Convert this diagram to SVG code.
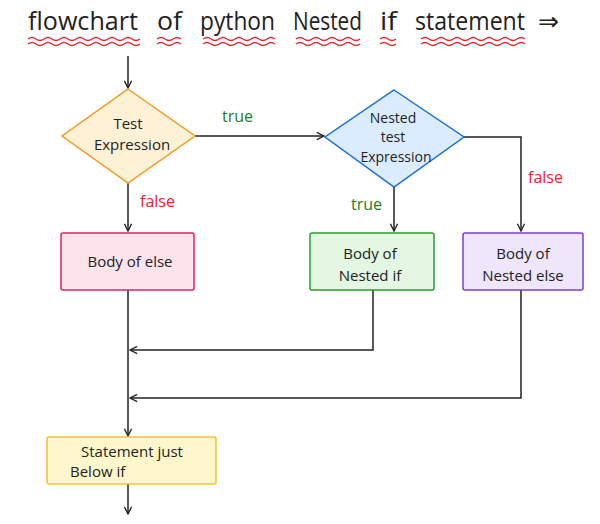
<svg xmlns="http://www.w3.org/2000/svg" width="600" height="524" viewBox="0 0 600 524">
<style>
text{font-family:"Open Sans","Liberation Sans",sans-serif;fill:#222}
.t{font-size:15px;text-anchor:middle}
.s{font-size:14px;text-anchor:middle}
.h{font-size:25px}
.c{stroke:#222;stroke-width:1.5;fill:none}
.wav{stroke:#e8232a;stroke-width:1.3;fill:none}
.g{fill:#1e7d1e;font-size:16px}
.r{fill:#e8232a;font-size:16px}
</style>
<defs>
<marker id="a" viewBox="0 0 10 10" refX="9" refY="5" markerWidth="9" markerHeight="9" orient="auto-start-reverse" markerUnits="userSpaceOnUse"><path d="M1,1 L9,5 L1,9" fill="none" stroke="#222" stroke-width="1.5"/></marker>
</defs>
<rect width="600" height="524" fill="#fff"/>
<g id="title">
<text class="h" x="28" y="30" textLength="110" lengthAdjust="spacingAndGlyphs">flowchart</text>
<text class="h" x="157" y="30" textLength="25" lengthAdjust="spacingAndGlyphs">of</text>
<text class="h" x="200" y="30" textLength="75" lengthAdjust="spacingAndGlyphs">python</text>
<text class="h" x="293" y="30" textLength="69" lengthAdjust="spacingAndGlyphs">Nested</text>
<text class="h" x="380" y="30" textLength="17" lengthAdjust="spacingAndGlyphs">if</text>
<text class="h" x="415" y="30" textLength="110" lengthAdjust="spacingAndGlyphs">statement</text>
<text class="h" x="538" y="30">⇒</text>
<path class="wav" d="M28,39 q4,-3 8,0 t8,0 t8,0 t8,0 t8,0 t8,0 t8,0 t8,0 t8,0 t8,0 t8,0 t8,0 t8,0 t8,0 M28,44 q4,-3 8,0 t8,0 t8,0 t8,0 t8,0 t8,0 t8,0 t8,0 t8,0 t8,0 t8,0 t8,0 t8,0 t8,0"/>
<path class="wav" d="M157,39 q4,-3 8,0 t8,0 t8,0 M157,44 q4,-3 8,0 t8,0 t8,0"/>
<path class="wav" d="M203,39 q4,-3 8,0 t8,0 t8,0 t8,0 t8,0 t8,0 t8,0 t8,0 t8,0 M203,44 q4,-3 8,0 t8,0 t8,0 t8,0 t8,0 t8,0 t8,0 t8,0 t8,0"/>
<path class="wav" d="M296,39 q4,-3 8,0 t8,0 t8,0 t8,0 t8,0 t8,0 t8,0 t8,0 M296,44 q4,-3 8,0 t8,0 t8,0 t8,0 t8,0 t8,0 t8,0 t8,0"/>
<path class="wav" d="M380,39 q4,-3 8,0 t8,0 M380,44 q4,-3 8,0 t8,0"/>
<path class="wav" d="M421,39 q4,-3 8,0 t8,0 t8,0 t8,0 t8,0 t8,0 t8,0 t8,0 t8,0 t8,0 t8,0 t8,0 t8,0 M421,44 q4,-3 8,0 t8,0 t8,0 t8,0 t8,0 t8,0 t8,0 t8,0 t8,0 t8,0 t8,0 t8,0 t8,0"/>
</g>
<g id="connectors">
<path class="c" d="M128,56 V88" marker-end="url(#a)"/>
<path class="c" d="M195,136 H324" marker-end="url(#a)"/>
<path class="c" d="M128,183 V231" marker-end="url(#a)"/>
<path class="c" d="M394,187 V231" marker-end="url(#a)"/>
<path class="c" d="M464,137 H521 V231" marker-end="url(#a)"/>
<path class="c" d="M128,290 V436" marker-end="url(#a)"/>
<path class="c" d="M373,290 V350 H130" marker-end="url(#a)"/>
<path class="c" d="M521,290 V398 H130" marker-end="url(#a)"/>
<path class="c" d="M128,484 V514" marker-end="url(#a)"/>
<text class="g" x="222" y="122">true</text>
<text class="r" x="140" y="207">false</text>
<text class="g" x="351" y="210">true</text>
<text class="r" x="528" y="183">false</text>
</g>
<g id="test">
<path d="M128,89 L195,136 L128,183 L62,136 Z" fill="#fff1d6" stroke="#f59a23" stroke-width="1.5"/>
<text class="t" x="128" y="129">Test</text><text class="t" x="132" y="150">Expression</text>
</g>
<g id="nested">
<path d="M394,90 L464,137 L394,187 L325,137 Z" fill="#dcecff" stroke="#1a6fd6" stroke-width="1.5"/>
<text class="s" x="393" y="123">Nested</text><text class="s" x="393" y="142">test</text><text class="s" x="396" y="162">Expression</text>
</g>
<g id="else">
<rect x="61" y="233" width="133" height="57" rx="2" fill="#fde4ec" stroke="#e0245e" stroke-width="1.5"/>
<text class="t" x="130" y="267">Body of else</text>
</g>
<g id="nestedif">
<rect x="310" y="233" width="124" height="57" rx="2" fill="#e3f7e3" stroke="#2e9a2e" stroke-width="1.5"/>
<text class="t" x="370" y="259">Body of</text><text class="t" x="370" y="281">Nested if</text>
</g>
<g id="nestedelse">
<rect x="463" y="233" width="120" height="57" rx="2" fill="#efe6fb" stroke="#7a3fd0" stroke-width="1.5"/>
<text class="t" x="523" y="259">Body of</text><text class="t" x="523" y="281">Nested else</text>
</g>
<g id="stmt">
<rect x="47" y="437" width="169" height="47" rx="2" fill="#fff7cc" stroke="#f2c230" stroke-width="1.5"/>
<text class="t" x="132" y="457">Statement just</text><text x="70" y="477" font-size="15">Below if</text>
</g>
</svg>
